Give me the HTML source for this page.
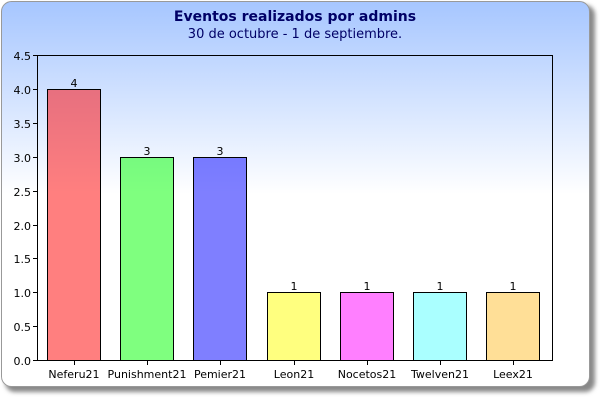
<!DOCTYPE html>
<html><head><style>body{margin:0;background:#fff}svg{display:block}</style></head><body>
<svg width="600" height="400" xmlns="http://www.w3.org/2000/svg" font-family="DejaVu Sans, sans-serif">
<defs>
<linearGradient id="g" x1="0" y1="0" x2="0" y2="1">
<stop offset="0" stop-color="#a6c6ff"/><stop offset="0.5" stop-color="#ffffff"/><stop offset="1" stop-color="#ffffff"/>
</linearGradient>
<filter id="s" x="-5%" y="-5%" width="110%" height="110%"><feGaussianBlur stdDeviation="2"/></filter>
</defs>
<rect x="5" y="5" width="590" height="387" rx="10" fill="#888" filter="url(#s)"/>
<rect x="1.5" y="1.5" width="588" height="385" rx="10" fill="url(#g)" stroke="#999"/>
<text x="295" y="21" text-anchor="middle" font-size="14" font-weight="bold" fill="#000066">Eventos realizados por admins</text>
<text x="295" y="38" text-anchor="middle" font-size="13" fill="#000066">30 de octubre - 1 de septiembre.</text>
<g stroke="#000" stroke-width="1">
<rect x="47.5" y="89.5" width="53" height="271" fill="#ff0000" fill-opacity="0.5"/>
<rect x="120.5" y="157.5" width="53" height="203" fill="#00ff00" fill-opacity="0.5"/>
<rect x="193.5" y="157.5" width="53" height="203" fill="#0000ff" fill-opacity="0.5"/>
<rect x="267.5" y="292.5" width="53" height="68" fill="#ffff00" fill-opacity="0.5"/>
<rect x="340.5" y="292.5" width="53" height="68" fill="#ff00ff" fill-opacity="0.5"/>
<rect x="413.5" y="292.5" width="53" height="68" fill="#55ffff" fill-opacity="0.5"/>
<rect x="486.5" y="292.5" width="53" height="68" fill="#ffc030" fill-opacity="0.5"/>
<rect x="37.5" y="55.5" width="515" height="305" fill="none"/>
<path d="M33 55.5h5M33 89.5h5M33 123.5h5M33 157.5h5M33 191.5h5M33 225.5h5M33 258.5h5M33 292.5h5M33 326.5h5M33 360.5h5"/>
<path d="M74.5 360v5M147.5 360v5M220.5 360v5M294.5 360v5M367.5 360v5M440.5 360v5M513.5 360v5"/>
</g>
<g font-size="11" fill="#000" text-anchor="end">
<text x="31" y="60">4.5</text><text x="31" y="94">4.0</text><text x="31" y="128">3.5</text><text x="31" y="162">3.0</text><text x="31" y="196">2.5</text><text x="31" y="230">2.0</text><text x="31" y="263">1.5</text><text x="31" y="297">1.0</text><text x="31" y="331">0.5</text><text x="31" y="365">0.0</text>
</g>
<g font-size="11" fill="#000" text-anchor="middle">
<text x="74" y="87">4</text><text x="147" y="155">3</text><text x="220" y="155">3</text><text x="294" y="290">1</text><text x="367" y="290">1</text><text x="440" y="290">1</text><text x="513" y="290">1</text>
<text x="74" y="378">Neferu21</text><text x="147" y="378">Punishment21</text><text x="220" y="378">Pemier21</text><text x="294" y="378">Leon21</text><text x="367" y="378">Nocetos21</text><text x="440" y="378">Twelven21</text><text x="513" y="378">Leex21</text>
</g>
</svg>
</body></html>
